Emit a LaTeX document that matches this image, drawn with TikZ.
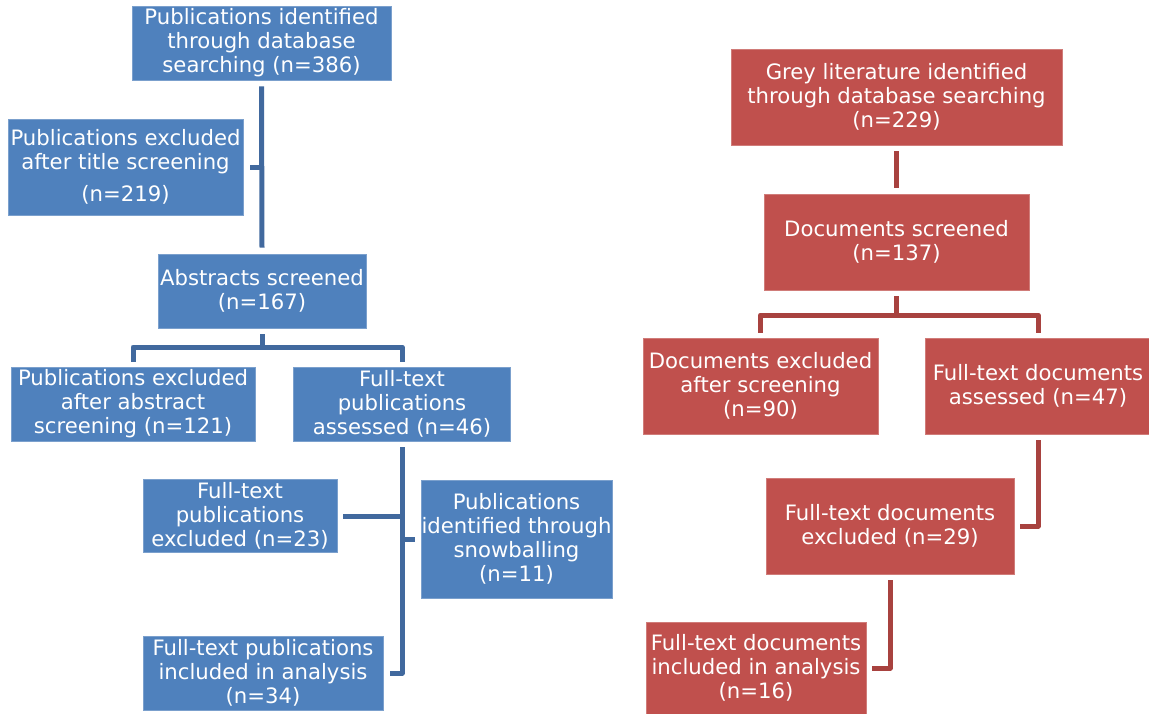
\documentclass[tikz,border=0pt]{standalone}
\usepackage{fontspec}
\setmainfont{DejaVu Sans}
\definecolor{bfill}{HTML}{4F81BD}
\definecolor{bline}{HTML}{41699E}
\definecolor{rfill}{HTML}{C0504D}
\definecolor{rline}{HTML}{A8423F}
\tikzset{
  box/.style={rectangle, inner sep=0pt, align=center, text=white,
    font=\fontsize{21.2}{24}\selectfont, line width=0.8pt},
  bbox/.style={box, fill=bfill, draw=bfill!75!white},
  rbox/.style={box, fill=rfill, draw=rfill!75!white},
  bconn/.style={draw=bline, line width=5pt, line join=round},
  rconn/.style={draw=rline, line width=5pt, line join=round},
}
\begin{document}
\begin{tikzpicture}[x=1pt,y=-1pt]
\useasboundingbox (0,0) rectangle (1149,713);
% blue side
\node[bbox, minimum width=259pt, minimum height=74pt] (b1) at (261.5,43)
  {Publications identified\\through database\\searching (n=386)};
\node[bbox, minimum width=235pt, minimum height=96pt] (b2) at (125.5,167)
  {Publications excluded\\after title screening\\[8pt](n=219)};
\node[bbox, minimum width=208pt, minimum height=74pt] (b3) at (262,291)
  {Abstracts screened\\(n=167)};
\node[bbox, minimum width=244pt, minimum height=74pt] (b4) at (133,404)
  {Publications excluded\\after abstract\\screening (n=121)};
\node[bbox, minimum width=217pt, minimum height=74pt] (b5) at (402,404)
  {Full-text\\publications\\assessed (n=46)};
\node[bbox, minimum width=194pt, minimum height=73pt] (b6) at (240,516)
  {Full-text\\publications\\excluded (n=23)};
\node[bbox, minimum width=191pt, minimum height=118pt] (b7) at (516.5,539)
  {Publications\\identified through\\snowballing\\(n=11)};
\node[bbox, minimum width=240pt, minimum height=74pt] (b8) at (263,673)
  {Full-text publications\\included in analysis\\(n=34)};
\coordinate (j1) at (262,347);
\draw[bconn] ([yshift=-6pt]b1.south) -- ([yshift=6pt]b3.north);
\draw[bconn] ([xshift=7pt]b2.east) -- (b2.east -| b1.south);
\draw[bconn] ([yshift=-6pt]b3.south) -- (j1);
\draw[bconn] ([yshift=5pt]b4.north) |- (j1) -| ([yshift=5pt]b5.north);
\draw[bconn] ([yshift=-6pt]b5.south) |- ([xshift=7pt]b8.east);
\draw[bconn] ([xshift=6pt]b6.east) -- (b6.east -| b5.south);
\draw[bconn] ([xshift=-6pt]b7.west) -- (b7.west -| b5.south);
% red side
\node[rbox, minimum width=331pt, minimum height=96pt] (r1) at (896.5,97)
  {Grey literature identified\\through database searching\\(n=229)};
\node[rbox, minimum width=265pt, minimum height=96pt] (r2) at (896.5,242)
  {Documents screened\\(n=137)};
\node[rbox, minimum width=235pt, minimum height=96pt] (r3) at (760.5,386)
  {Documents excluded\\after screening\\(n=90)};
\node[rbox, minimum width=226pt, minimum height=96pt] (r4) at (1038,386)
  {Full-text documents\\assessed (n=47)};
\node[rbox, minimum width=248pt, minimum height=96pt] (r5) at (890,526)
  {Full-text documents\\excluded (n=29)};
\node[rbox, minimum width=220pt, minimum height=92pt] (r6) at (756,668)
  {Full-text documents\\included in analysis\\(n=16)};
\coordinate (j2) at (896.5,315);
\draw[rconn] ([yshift=-6pt]r1.south) -- ([yshift=6pt]r2.north);
\draw[rconn] ([yshift=-6pt]r2.south) -- (j2);
\draw[rconn] ([yshift=5pt]r3.north) |- (j2) -| ([yshift=5pt]r4.north);
\draw[rconn] ([yshift=-6pt]r4.south) |- ([xshift=6pt]r5.east);
\draw[rconn] ([yshift=-6pt]r5.south) |- ([xshift=6pt]r6.east);
\end{tikzpicture}
\end{document}
